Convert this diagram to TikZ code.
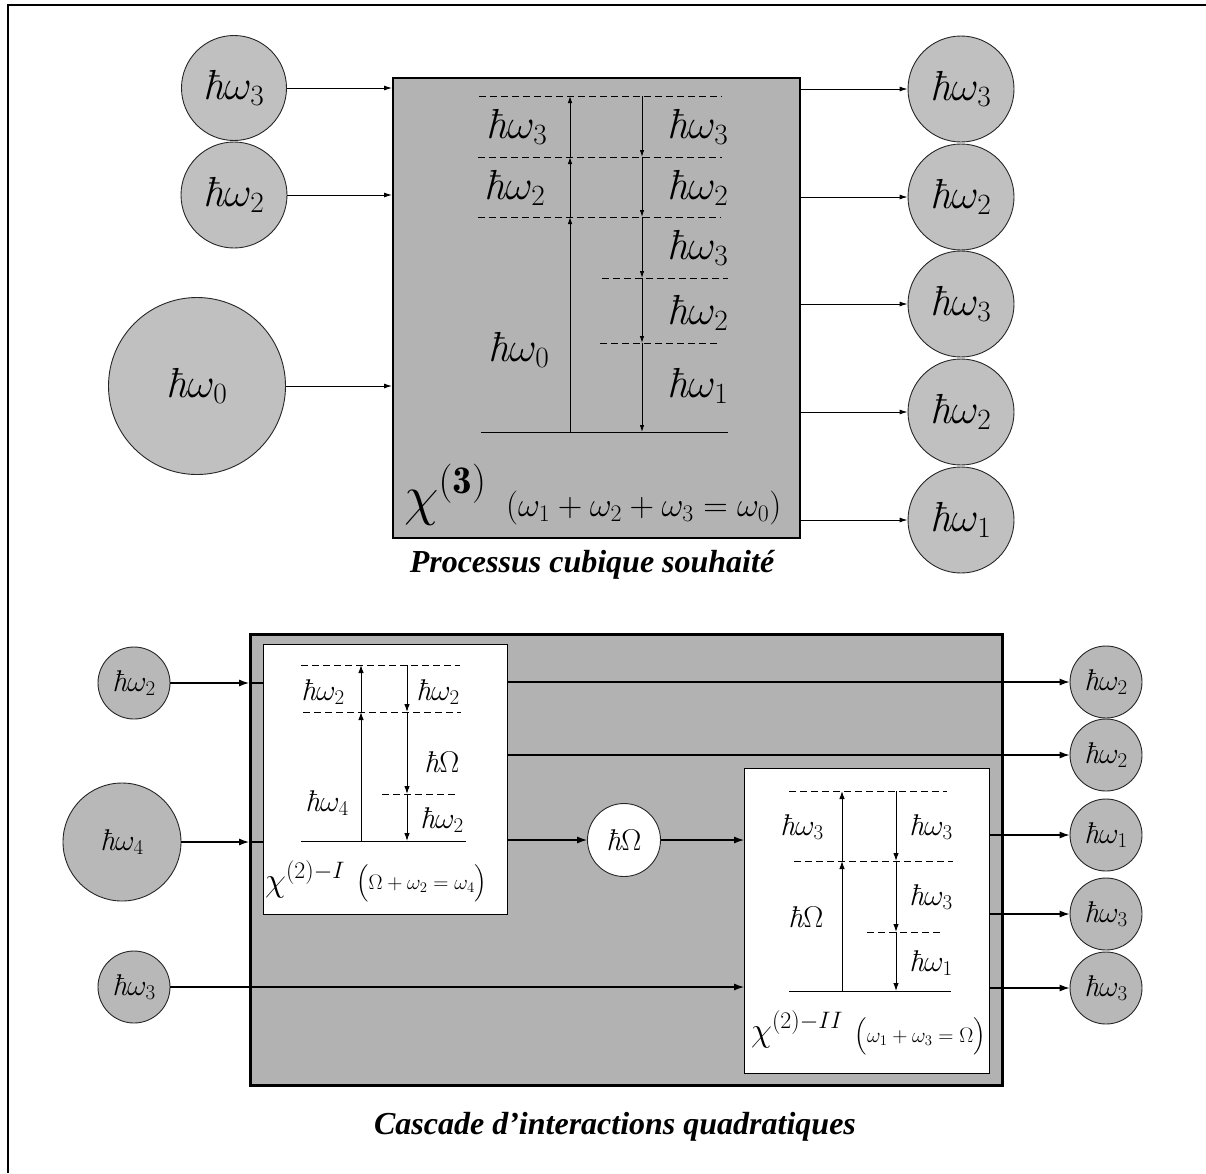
\RequirePackage{fix-cm}
\documentclass[tikz,border=0pt]{standalone}
\usepackage{amsmath}
\usepackage{fontspec}
\newfontfamily\capfont{Liberation Serif}
\newcommand\hb{\text{\itshape ħ}}
\usetikzlibrary{arrows.meta}
\definecolor{ballgray}{RGB}{192,192,192}
\definecolor{boxgray}{RGB}{179,179,179}
\definecolor{ballgrayB}{RGB}{184,184,184}
\definecolor{boxgrayB}{RGB}{178,178,178}
\begin{document}
\begin{tikzpicture}[x=1pt,y=-1pt,
  ball/.style={circle,draw=black!85,line width=0.9pt,fill=ballgray,inner sep=0pt,minimum size=#1},
  ballB/.style={circle,draw=black!85,line width=0.9pt,fill=ballgrayB,inner sep=0pt,minimum size=#1},
  toplab/.style={font=\fontsize{42}{42}\selectfont,inner sep=0pt},
  botlab/.style={font=\fontsize{30}{30}\selectfont,inner sep=0pt},
  arr/.style={-{Latex[length=8pt,width=5pt]},line width=0.9pt},
  arrB/.style={-{Latex[length=10pt,width=7pt]},line width=1.1pt},
  tipT/.style={-{Latex[length=7pt,width=4.5pt]},line width=0.9pt},
  tipB/.style={-{Latex[length=8pt,width=5.5pt]},line width=1pt},
  lvl/.style={line width=1pt},
  dlvl/.style={line width=1pt,dash pattern=on 7pt off 4pt},
  capt/.style={font=\capfont\bfseries\itshape\fontsize{32}{32}\selectfont,inner sep=0pt}]
\useasboundingbox (0,0) rectangle (1206,1173);
% outer frame
\draw[line width=1.5pt] (8,1173) -- (8,5) -- (1206,5);

% ===================== TOP PART =====================
\node[draw,line width=2pt,fill=boxgray,minimum width=407pt,minimum height=460pt,inner sep=0pt,anchor=north west] (tb) at (392,77) {};

\node[ball=105pt,toplab] (i3) at (234,88) {$\hb\omega_3$};
\node[ball=106pt,toplab] (i2) at (234,195) {$\hb\omega_2$};
\node[ball=177pt,toplab] (i0) at (197,386) {$\hb\omega_0$};
\draw[arr] (i3) -- (i3 -| tb.west);
\draw[arr] (i2) -- (i2 -| tb.west);
\draw[arr] (i0) -- (i0 -| tb.west);

\node[ball=106pt,toplab] (o3a) at (961,89) {$\hb\omega_3$};
\node[ball=106pt,toplab] (o2a) at (961,197) {$\hb\omega_2$};
\node[ball=106pt,toplab] (o3b) at (961,304) {$\hb\omega_3$};
\node[ball=106pt,toplab] (o2b) at (961,412) {$\hb\omega_2$};
\node[ball=106pt,toplab] (o1a) at (961,520) {$\hb\omega_1$};
\foreach \n in {o3a,o2a,o3b,o2b,o1a}{\draw[arr] (tb.east |- \n) -- (\n);}

% levels
\coordinate (t1l) at (479,96);  \coordinate (t1r) at (722,96);
\coordinate (t2l) at (478,157); \coordinate (t2r) at (722,157);
\coordinate (t3l) at (478,217); \coordinate (t3r) at (721,217);
\coordinate (t4l) at (602,278); \coordinate (t4r) at (728,278);
\coordinate (t5l) at (600,343); \coordinate (t5r) at (720,343);
\coordinate (tgl) at (481,432); \coordinate (tgr) at (728,432);
\foreach \a/\b in {t1l/t1r,t2l/t2r,t3l/t3r,t4l/t4r,t5l/t5r}{\draw[dlvl] (\a) -- (\b);}
\draw[lvl] (tgl) -- (tgr);
\coordinate (u0) at (570,432); \coordinate (u1) at (570,217);
\coordinate (u2) at (570,157); \coordinate (u3) at (570,96);
\draw[tipT] (u0) -- (u1); \draw[tipT] (u1) -- (u2); \draw[tipT] (u2) -- (u3);
\coordinate (d0) at (642,96);  \coordinate (d1) at (642,157);
\coordinate (d2) at (642,217); \coordinate (d3) at (642,278);
\coordinate (d4) at (642,343); \coordinate (d5) at (642,432);
\draw[tipT] (d0) -- (d1); \draw[tipT] (d1) -- (d2); \draw[tipT] (d2) -- (d3);
\draw[tipT] (d3) -- (d4); \draw[tipT] (d4) -- (d5);
\node[toplab] (tl3) at (517,127) {$\hb\omega_3$};
\node[toplab] (tl2) at (515,188) {$\hb\omega_2$};
\node[toplab] (tl0) at (519,350) {$\hb\omega_0$};
\node[toplab] (tr3) at (698,127) {$\hb\omega_3$};
\node[toplab] (tr2) at (698,188) {$\hb\omega_2$};
\node[toplab] (tr3b) at (698,248) {$\hb\omega_3$};
\node[toplab] (tr2b) at (698,313) {$\hb\omega_2$};
\node[toplab] (tr1) at (698,386) {$\hb\omega_1$};
\node[font=\fontsize{56}{56}\selectfont,inner sep=0pt,anchor=base west] (chi3) at (404,514) {$\chi^{\mathbf{(3)}}$};
\node[font=\fontsize{34}{34}\selectfont,inner sep=0pt,anchor=base west] (eq3) at (506,516) {$(\omega_1+\omega_2+\omega_3=\omega_0)$};
\node[capt] (cap1) at (592,565) {Processus cubique souhaité};

% ===================== BOTTOM PART =====================
\node[draw,line width=3pt,fill=boxgrayB,minimum width=752pt,minimum height=451pt,inner sep=0pt,anchor=north west] (big) at (249,633) {};
\node[draw,line width=1.2pt,fill=white,minimum width=244pt,minimum height=270pt,inner sep=0pt,anchor=north west] (b1) at (263,644) {};
\node[draw,line width=1.2pt,fill=white,minimum width=245pt,minimum height=305pt,inner sep=0pt,anchor=north west] (b2) at (744,768) {};

\node[ballB=72pt,botlab] (in2) at (134,683) {$\hb\omega_2$};
\node[ballB=118pt,botlab] (in4) at (122,842) {$\hb\omega_4$};
\node[ballB=72pt,botlab] (in3) at (134,987) {$\hb\omega_3$};
\node[ball=73pt,fill=white,botlab] (om) at (624,840) {$\hb\Omega$};
\node[ballB=72pt,botlab] (p1) at (1106,682) {$\hb\omega_2$};
\node[ballB=72pt,botlab] (p2) at (1106,755) {$\hb\omega_2$};
\node[ballB=72pt,botlab] (p3) at (1106,835) {$\hb\omega_1$};
\node[ballB=72pt,botlab] (p4) at (1106,914) {$\hb\omega_3$};
\node[ballB=72pt,botlab] (p5) at (1106,988) {$\hb\omega_3$};

\draw[arrB] (in2) -- (in2 -| big.west);
\draw[line width=1.1pt] (in2 -| big.west) -- (in2 -| b1.west);
\draw[arrB] (in4) -- (in4 -| big.west);
\draw[line width=1.1pt] (in4 -| big.west) -- (in4 -| b1.west);
\draw[arrB] (in3) -- (in3 -| b2.west);
\draw[arrB] (b1.east |- p1) -- (p1);
\draw[arrB] (b1.east |- p2) -- (p2);
\draw[arrB] (b1.east |- om) -- (om);
\draw[arrB] (om) -- (om -| b2.west);
\draw[arrB] (b2.east |- p3) -- (p3);
\draw[arrB] (b2.east |- p4) -- (p4);
\draw[arrB] (b2.east |- p5) -- (p5);

% box I levels
\coordinate (a1l) at (301,665); \coordinate (a1r) at (460,665);
\coordinate (a2l) at (303,712); \coordinate (a2r) at (461,712);
\coordinate (a3l) at (382,794); \coordinate (a3r) at (458,794);
\coordinate (agl) at (301,841); \coordinate (agr) at (466,841);
\foreach \a/\b in {a1l/a1r,a2l/a2r,a3l/a3r}{\draw[dlvl] (\a) -- (\b);}
\draw[lvl] (agl) -- (agr);
\coordinate (au0) at (361,841); \coordinate (au1) at (361,712); \coordinate (au2) at (361,665);
\draw[tipB] (au0) -- (au1); \draw[tipB] (au1) -- (au2);
\coordinate (ad0) at (407,665); \coordinate (ad1) at (407,712);
\coordinate (ad2) at (407,794); \coordinate (ad3) at (407,841);
\draw[tipB] (ad0) -- (ad1); \draw[tipB] (ad1) -- (ad2); \draw[tipB] (ad2) -- (ad3);
\node[botlab] (al2) at (323,692) {$\hb\omega_2$};
\node[botlab] (ar2) at (438,692) {$\hb\omega_2$};
\node[botlab] (arO) at (442,762) {$\hb\Omega$};
\node[botlab] (al4) at (327,803) {$\hb\omega_4$};
\node[botlab] (ar2b) at (442,820) {$\hb\omega_2$};
\node[font=\fontsize{34}{34}\selectfont,inner sep=0pt,anchor=base west] (chiI) at (265,891) {$\chi^{(2)-I}$};
\node[font=\fontsize{21}{21}\selectfont,inner sep=0pt,anchor=base west] (eqI) at (356,889) {$\Bigl(\Omega+\omega_{2}=\omega_{4}\Bigr)$};

% box II levels
\coordinate (c1l) at (789,791); \coordinate (c1r) at (947,791);
\coordinate (c2l) at (794,861); \coordinate (c2r) at (953,861);
\coordinate (c3l) at (867,932); \coordinate (c3r) at (943,932);
\coordinate (cgl) at (789,991); \coordinate (cgr) at (951,991);
\foreach \a/\b in {c1l/c1r,c2l/c2r,c3l/c3r}{\draw[dlvl] (\a) -- (\b);}
\draw[lvl] (cgl) -- (cgr);
\coordinate (cu0) at (842,991); \coordinate (cu1) at (842,861); \coordinate (cu2) at (842,791);
\draw[tipB] (cu0) -- (cu1); \draw[tipB] (cu1) -- (cu2);
\coordinate (cd0) at (896,791); \coordinate (cd1) at (896,861);
\coordinate (cd2) at (896,932); \coordinate (cd3) at (896,991);
\draw[tipB] (cd0) -- (cd1); \draw[tipB] (cd1) -- (cd2); \draw[tipB] (cd2) -- (cd3);
\node[botlab] (cl3) at (802,827) {$\hb\omega_3$};
\node[botlab] (cr3) at (931,827) {$\hb\omega_3$};
\node[botlab] (clO) at (806,917) {$\hb\Omega$};
\node[botlab] (cr3b) at (931,897) {$\hb\omega_3$};
\node[botlab] (cr1) at (931,963) {$\hb\omega_1$};
\node[font=\fontsize{34}{34}\selectfont,inner sep=0pt,anchor=base west] (chiII) at (751,1041) {$\chi^{(2)-II}$};
\node[font=\fontsize{21}{21}\selectfont,inner sep=0pt,anchor=base east] (eqII) at (986,1042) {$\Bigl(\omega_{1}+\omega_{3}=\Omega\Bigr)$};

\node[capt] (cap2) at (615,1127) {Cascade d’interactions quadratiques};
\end{tikzpicture}
\end{document}
